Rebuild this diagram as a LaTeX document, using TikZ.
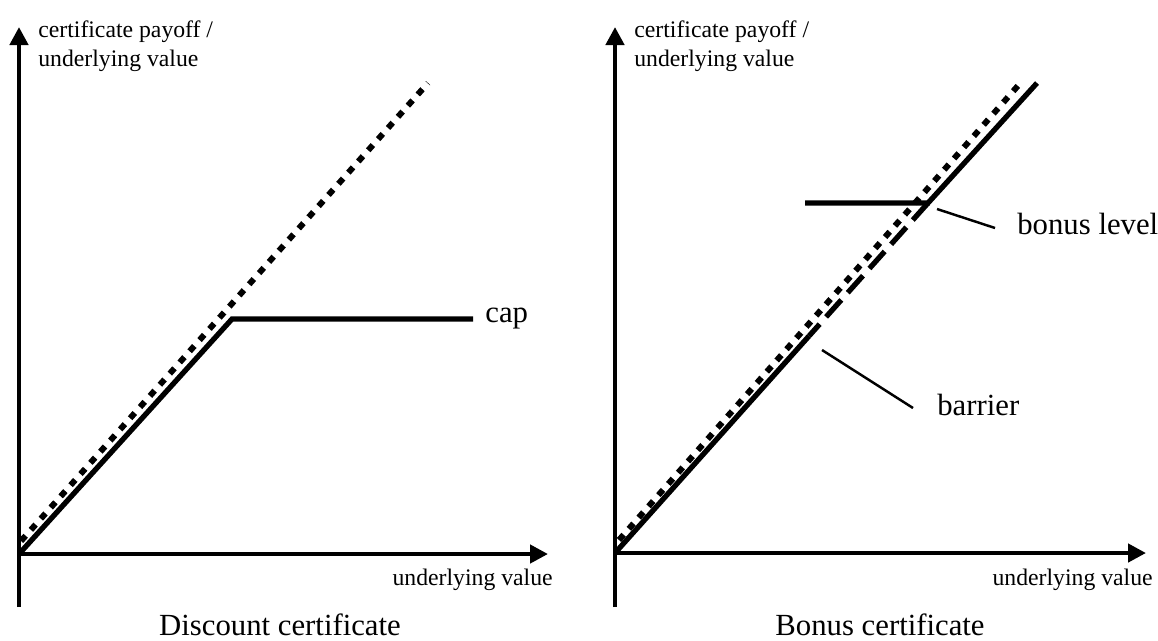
\documentclass[tikz,border=0pt]{standalone}
\usepackage{fontspec}
\setmainfont{Liberation Serif}
\usepackage{tikz}
\usetikzlibrary{positioning,arrows.meta}

\begin{document}
\begin{tikzpicture}[x=0.02cm,y=-0.02cm,
        axis/.style={line width=2.5pt,
            -{Triangle[length=0.36cm,width=0.36cm]}},
        payoff/.style={line width=3pt},
        underlying/.style={line width=3.4pt,
            dash pattern=on 4pt off 4.5pt},
        knockout/.style={line width=3pt,
            dash pattern=on 13pt off 5.5pt},
        leader/.style={line width=1.4pt},
        axislabel/.style={inner sep=0pt,
            font=\fontsize{13.5}{16.5}\selectfont},
        tag/.style={inner sep=0pt,
            font=\fontsize{17.5}{20}\selectfont},
        caption/.style={inner sep=0pt,
            font=\fontsize{17.5}{20}\selectfont}]
    \useasboundingbox (0,0) rectangle (1158,640);

    % discount certificate
    \coordinate (dbot) at (19,607);
    \coordinate (dtop) at (19,27);
    \coordinate (dorigin) at (19,554);
    \coordinate (dright) at (548,554);
    \coordinate (dkink) at (232,319);
    \coordinate (dcapend) at (473,319);
    \coordinate (dund0) at (21,541);
    \coordinate (dund1) at (428,83);

    \draw[axis] (dbot) -- (dtop);
    \draw[axis] (17,554) -- (dright);
    \draw[underlying] (dund0) -- (dund1);
    \draw[payoff] (dorigin) -- (dkink) -- (dcapend);

    \node[tag, anchor=base west] (cap) at (485,322) {cap};
    \node[axislabel, anchor=north west, align=left] (dylabel)
        at (38,20) {certificate payoff /\\underlying value};
    \node[axislabel, anchor=base east] (dxlabel)
        at (553,585) {underlying value};
    \node[caption, anchor=base] (discount) at (280,635)
        {Discount certificate};

    % bonus certificate
    \coordinate (bbot) at (615,607);
    \coordinate (btop) at (615,27);
    \coordinate (borigin) at (615,553);
    \coordinate (bright) at (1146,553);
    \coordinate (bbarrier) at (809,336);
    \coordinate (bkink) at (928,203);
    \coordinate (bend) at (1037,83);
    \coordinate (blevel) at (805,203);
    \coordinate (bund0) at (619,540);
    \coordinate (bund1) at (1023,80);

    \draw[axis] (bbot) -- (btop);
    \draw[axis] (613,553) -- (bright);
    \draw[underlying] (bund0) -- (bund1);
    \draw[payoff] (borigin) -- (bbarrier);
    \draw[knockout] (bkink) -- (bbarrier);
    \draw[payoff] (blevel) -- (bkink) -- (bend);

    \node[tag, anchor=base west] (bonus) at (1017,234) {bonus level};
    \node[tag, anchor=base west] (barrier) at (937,415) {barrier};
    \coordinate (bonusfoot) at (937,209);
    \coordinate (bonushead) at (995,228);
    \coordinate (barrierfoot) at (822,350);
    \coordinate (barrierhead) at (913,408);
    \draw[leader] (bonusfoot) -- (bonushead);
    \draw[leader] (barrierfoot) -- (barrierhead);

    \node[axislabel, anchor=north west, align=left] (bylabel)
        at (634,20) {certificate payoff /\\underlying value};
    \node[axislabel, anchor=base east] (bxlabel)
        at (1153,585) {underlying value};
    \node[caption, anchor=base] (bonuscert) at (880,635)
        {Bonus certificate};
\end{tikzpicture}
\end{document}
